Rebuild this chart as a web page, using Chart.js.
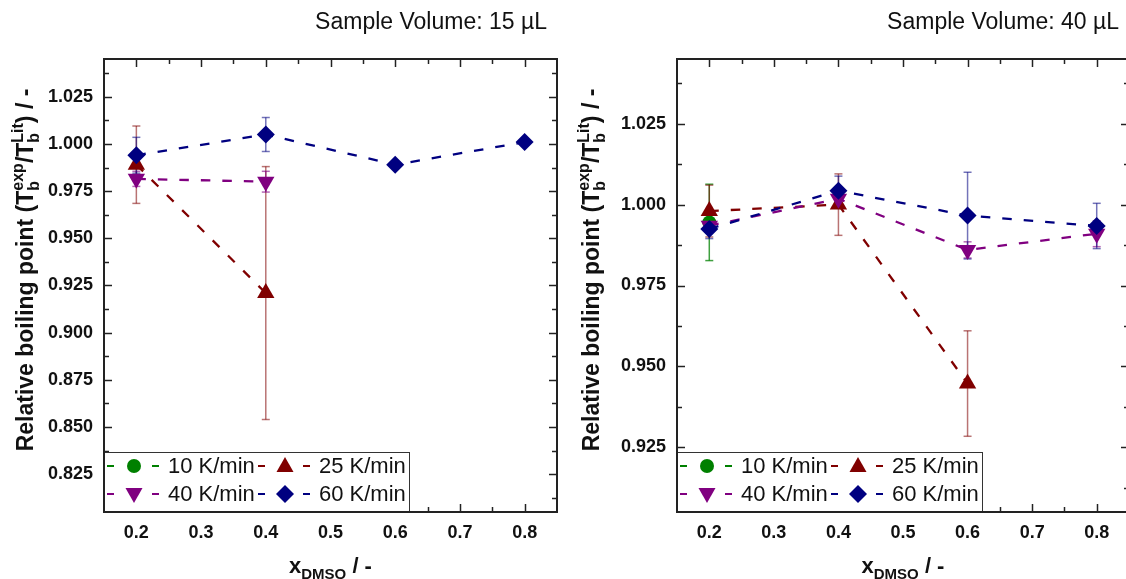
<!DOCTYPE html>
<html>
<head>
<meta charset="utf-8">
<script src="https://cdn.jsdelivr.net/npm/chart.js@4.4.0/dist/chart.umd.min.js"></script>
<style>
  html, body { margin: 0; padding: 0; background: #fff; overflow: hidden; width: 1126px; height: 579px; }
  #left { position: absolute; left: 0; top: 0; }
  #right { position: absolute; left: 570px; top: 0; }
</style>
</head>
<body>
<canvas id="left" width="570" height="579"></canvas>
<canvas id="right" width="572" height="579"></canvas>
<script>
// x positions (mole fraction of DMSO)
var xDmso = [0.2, 0.4, 0.6, 0.8];
var rateLabels = ['10 K/min', '25 K/min', '40 K/min', '60 K/min'];

// Sample volume 15 µL
var rate10_15 = [null, null, null, null];
var rate25_15 = [0.989, 0.921, null, null];
var rate40_15 = [0.9815, 0.980, null, null];
var rate60_15 = [0.994, 1.005, 0.989, 1.001];
var err10_15 = [null, null, null, null];
var err25_15 = [0.0205, 0.067, null, null];
var err40_15 = [0.004, 0.0055, null, null];
var err60_15 = [0.0095, 0.009, 0, 0];

// Sample volume 40 µL
var rate10_40 = [0.9945, null, null, null];
var rate25_40 = [0.998, 1.000, 0.9447, null];
var rate40_40 = [0.9935, 1.0018, 0.986, 0.991];
var rate60_40 = [0.9925, 1.0043, 0.9966, 0.9934];
var err10_40 = [0.0118, null, null, null];
var err25_40 = [0.008, 0.0095, 0.0163, null];
var err40_40 = [0.002, 0.002, 0.0025, 0.004];
var err60_40 = [0.003, 0.0045, 0.0134, 0.007];

// axis ticks
var xTicks = [0.2, 0.3, 0.4, 0.5, 0.6, 0.7, 0.8];
var xMinor = [0.25, 0.35, 0.45, 0.55, 0.65, 0.75];
var yTicks_15 = [0.825, 0.85, 0.875, 0.9, 0.925, 0.95, 0.975, 1.0, 1.025];
var yMinor_15 = [0.8125, 0.8375, 0.8625, 0.8875, 0.9125, 0.9375, 0.9625, 0.9875, 1.0125, 1.0375];
var yTicks_40 = [0.925, 0.95, 0.975, 1.0, 1.025];
var yMinor_40 = [0.9125, 0.9375, 0.9625, 0.9875, 1.0125, 1.0375];

var FONT = "'Liberation Sans', Arial, sans-serif";
var styles = [
  { color: '#008000', err: 'rgba(0,128,0,0.75)', pointStyle: 'circle', rotation: 0, radius: 7, order: 4 },
  { color: '#800000', err: 'rgba(128,0,0,0.55)', pointStyle: 'triangle', rotation: 0, radius: 10, order: 3 },
  { color: '#800080', err: 'rgba(128,0,128,0.6)', pointStyle: 'triangle', rotation: 180, radius: 10, order: 2 },
  { color: '#000080', err: 'rgba(0,0,128,0.55)', pointStyle: 'rectRot', radius: 9, rotation: 0, order: 1 }
];

function toPoints(vals) {
  var pts = [];
  vals.forEach(function (v, i) { if (v !== null) pts.push({ x: xDmso[i], y: v }); });
  return pts;
}

function makeDatasets(series, errors) {
  return series.map(function (vals, i) {
    var s = styles[i];
    return {
      label: rateLabels[i],
      data: toPoints(vals),
      errors: errors[i],
      borderColor: s.color,
      backgroundColor: s.color,
      borderWidth: 2.3,
      borderDash: [9.5, 12],
      pointStyle: s.pointStyle,
      rotation: s.rotation,
      pointRadius: s.radius,
      pointHoverRadius: s.radius,
      pointBorderWidth: 0,
      errColor: s.err,
      order: s.order,
      fill: false
    };
  });
}

function line(ctx, x1, y1, x2, y2) {
  ctx.beginPath(); ctx.moveTo(x1, y1); ctx.lineTo(x2, y2); ctx.stroke();
}

function marker(ctx, s, x, y) {
  ctx.fillStyle = s.color;
  ctx.beginPath();
  if (s.pointStyle === 'circle') {
    ctx.arc(x, y, 7, 0, Math.PI * 2);
  } else if (s.pointStyle === 'rectRot') {
    ctx.moveTo(x, y - 9); ctx.lineTo(x + 9, y); ctx.lineTo(x, y + 9); ctx.lineTo(x - 9, y);
  } else if (s.rotation === 180) {
    ctx.moveTo(x - 8.5, y - 6); ctx.lineTo(x + 8.5, y - 6); ctx.lineTo(x, y + 9);
  } else {
    ctx.moveTo(x - 8.5, y + 6); ctx.lineTo(x + 8.5, y + 6); ctx.lineTo(x, y - 9);
  }
  ctx.closePath();
  ctx.fill();
}

// rich text: segments of {t} or {sub, sup}
function richWidth(ctx, segs, size) {
  var w = 0;
  segs.forEach(function (g) {
    if (g.sub !== undefined || g.sup !== undefined) {
      ctx.font = 'bold ' + Math.round(size * 0.68) + 'px ' + FONT;
      w += Math.max(g.sub ? ctx.measureText(g.sub).width : 0, g.sup ? ctx.measureText(g.sup).width : 0);
    } else {
      ctx.font = 'bold ' + size + 'px ' + FONT;
      w += ctx.measureText(g.t).width;
    }
  });
  return w;
}
function richDraw(ctx, segs, x, y, size) {
  ctx.textAlign = 'left';
  ctx.textBaseline = 'alphabetic';
  segs.forEach(function (g) {
    if (g.sub !== undefined || g.sup !== undefined) {
      ctx.font = 'bold ' + Math.round(size * 0.68) + 'px ' + FONT;
      var w = 0;
      if (g.sub) { ctx.fillText(g.sub, x, y + 6); w = ctx.measureText(g.sub).width; }
      if (g.sup) { ctx.fillText(g.sup, x, y - 10); w = Math.max(w, ctx.measureText(g.sup).width); }
      x += w;
    } else {
      ctx.font = 'bold ' + size + 'px ' + FONT;
      ctx.fillText(g.t, x, y);
      x += ctx.measureText(g.t).width;
    }
  });
}

var yTitle = [{ t: 'Relative boiling point (T' }, { sub: 'b', sup: 'exp' }, { t: '/T' }, { sub: 'b', sup: 'Lit' }, { t: ') / -' }];
var xTitle = [{ t: 'x' }, { sub: 'DMSO' }, { t: ' / -' }];

var decor = {
  id: 'decor',
  beforeDatasetsDraw: function (chart) {
    var ctx = chart.ctx, xs = chart.scales.x, ys = chart.scales.y;
    ctx.save();
    ctx.lineWidth = 1.5;
    chart.data.datasets.forEach(function (ds) {
      ctx.strokeStyle = ds.errColor;
      ds.data.forEach(function (p) {
        var idx = xDmso.indexOf(p.x);
        var e = ds.errors[idx];
        if (!e) return;
        var px = xs.getPixelForValue(p.x);
        var top = ys.getPixelForValue(p.y + e), bot = ys.getPixelForValue(p.y - e);
        line(ctx, px, top, px, bot);
        line(ctx, px - 4, top, px + 4, top);
        line(ctx, px - 4, bot, px + 4, bot);
      });
    });
    ctx.restore();
  },
  afterDraw: function (chart) {
    var o = chart.options.plugins.decor;
    var ctx = chart.ctx, a = chart.chartArea, xs = chart.scales.x, ys = chart.scales.y;
    ctx.save();
    // ticks on all sides, pointing inward
    ctx.strokeStyle = '#222';
    ctx.lineWidth = 1.5;
    xTicks.forEach(function (v) {
      var p = Math.round(xs.getPixelForValue(v)) + 0.5;
      line(ctx, p, a.bottom, p, a.bottom - 8);
      line(ctx, p, a.top, p, a.top + 8);
    });
    xMinor.forEach(function (v) {
      var p = Math.round(xs.getPixelForValue(v)) + 0.5;
      line(ctx, p, a.bottom, p, a.bottom - 5);
      line(ctx, p, a.top, p, a.top + 5);
    });
    o.yMajor.forEach(function (v) {
      var p = Math.round(ys.getPixelForValue(v)) + 0.5;
      line(ctx, a.left, p, a.left + 8, p);
      line(ctx, a.right, p, a.right - 8, p);
    });
    o.yMinor.forEach(function (v) {
      var p = Math.round(ys.getPixelForValue(v)) + 0.5;
      line(ctx, a.left, p, a.left + 5, p);
      line(ctx, a.right, p, a.right - 5, p);
    });
    // legend box
    var bx = a.left - 1, by = a.bottom - 60, bw = 306, bh = 60;
    ctx.fillStyle = '#fff';
    ctx.fillRect(bx, by, bw, bh);
    ctx.lineWidth = 1;
    ctx.strokeStyle = '#333';
    ctx.strokeRect(bx + 0.5, by + 0.5, bw, bh);
    chart.data.datasets.forEach(function (ds, i) {
      var s = styles[i];
      var x0 = a.left + 3 + (i % 2) * 151;
      var yc = by + 14 + Math.floor(i / 2) * 28;
      ctx.strokeStyle = s.color;
      ctx.lineWidth = 2;
      line(ctx, x0, yc, x0 + 7, yc);
      line(ctx, x0 + 45, yc, x0 + 52, yc);
      marker(ctx, s, x0 + 27, yc);
      ctx.fillStyle = '#111';
      ctx.font = '22px ' + FONT;
      ctx.textAlign = 'left';
      ctx.textBaseline = 'middle';
      ctx.fillText(ds.label, x0 + 61, yc + 1);
    });
    // frame
    ctx.strokeStyle = '#222';
    ctx.lineWidth = 2;
    ctx.strokeRect(a.left, a.top, a.right - a.left, a.bottom - a.top);
    // panel title
    ctx.fillStyle = '#111';
    ctx.font = '23px ' + FONT;
    ctx.textAlign = 'right';
    ctx.textBaseline = 'alphabetic';
    ctx.fillText(o.title, a.right - 10, 29);
    // axis titles
    ctx.fillStyle = '#111';
    var wx = richWidth(ctx, xTitle, 22);
    richDraw(ctx, xTitle, (a.left + a.right) / 2 - wx / 2, 573, 22);
    var wy = richWidth(ctx, yTitle, 23);
    ctx.translate(o.yTitleX, 270);
    ctx.rotate(-Math.PI / 2);
    richDraw(ctx, yTitle, -wy / 2, 0, 23);
    ctx.restore();
  }
};

function makeChart(id, datasets, yMin, yMax, yMajor, yMinorList, yWidth, title, yTitleX) {
  var ctx = document.getElementById(id).getContext('2d');
  return new Chart(ctx, {
    type: 'line',
    data: { datasets: datasets },
    plugins: [decor],
    options: {
      responsive: false,
      animation: false,
      layout: { padding: { top: 59, right: 13, left: 0, bottom: 0 } },
      plugins: {
        legend: { display: false },
        tooltip: { enabled: false },
        decor: { yMajor: yMajor, yMinor: yMinorList, title: title, yTitleX: yTitleX }
      },
      scales: {
        x: {
          type: 'linear',
          min: 0.15,
          max: 0.85,
          grid: { display: false, drawTicks: false },
          border: { display: false },
          afterBuildTicks: function (s) { s.ticks = xTicks.map(function (v) { return { value: v }; }); },
          afterFit: function (s) { s.height = 67; },
          ticks: {
            padding: 10,
            color: '#111',
            font: { family: FONT, size: 18, weight: 'bold' },
            callback: function (v) { return v.toFixed(1); }
          }
        },
        y: {
          type: 'linear',
          min: yMin,
          max: yMax,
          grid: { display: false, drawTicks: false },
          border: { display: false },
          afterBuildTicks: function (s) { s.ticks = yMajor.map(function (v) { return { value: v }; }); },
          afterFit: function (s) { s.width = yWidth; },
          ticks: {
            padding: 11,
            color: '#111',
            font: { family: FONT, size: 18, weight: 'bold' },
            callback: function (v) { return v.toFixed(3); }
          }
        }
      }
    }
  });
}

makeChart('left',
  makeDatasets([rate10_15, rate25_15, rate40_15, rate60_15], [err10_15, err25_15, err40_15, err60_15]),
  0.805, 1.045, yTicks_15, yMinor_15, 104, 'Sample Volume: 15 \u00b5L', 33);

makeChart('right',
  makeDatasets([rate10_40, rate25_40, rate40_40, rate60_40], [err10_40, err25_40, err40_40, err60_40]),
  0.905, 1.045, yTicks_40, yMinor_40, 107, 'Sample Volume: 40 \u00b5L', 29);
</script>
</body>
</html>
